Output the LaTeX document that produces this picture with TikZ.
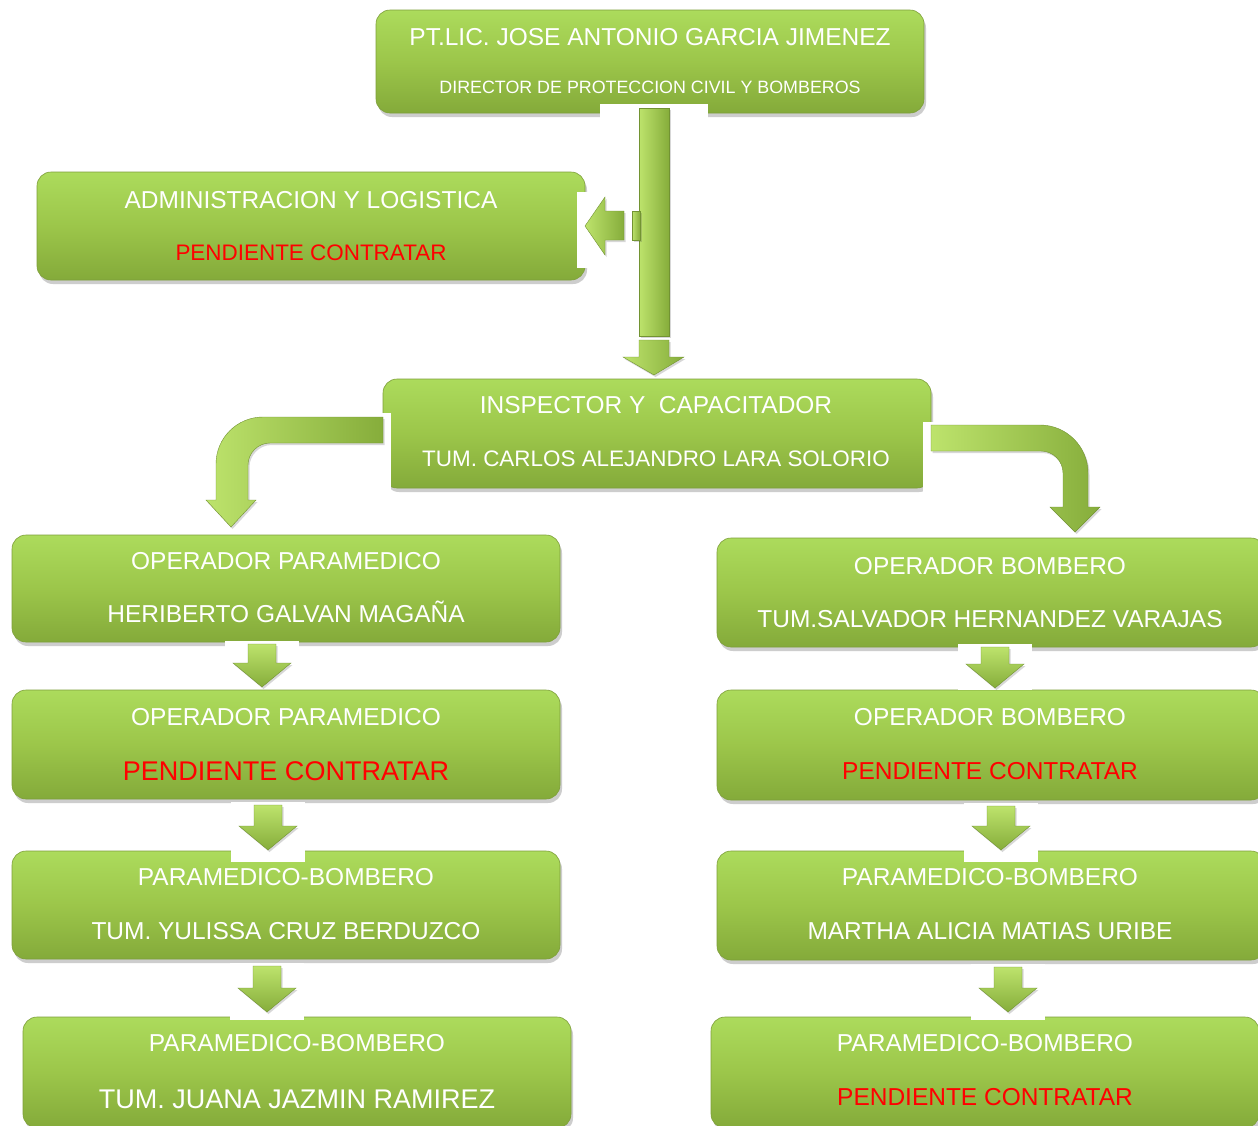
\documentclass[tikz,border=0pt]{standalone}
\usepackage{fontspec}
\setmainfont{Liberation Sans}
\usetikzlibrary{shadows,calc}
\definecolor{gtop}{HTML}{ACDB5C}
\definecolor{gmid}{HTML}{9CC64A}
\definecolor{gbot}{HTML}{84AA3A}
\definecolor{gedge}{HTML}{7E9F3A}
\definecolor{ared}{HTML}{FF0000}
\definecolor{atop}{HTML}{BDE36C}
\definecolor{abot}{HTML}{86AD3B}
\tikzset{
  box/.style={rounded corners=14pt, minimum width=548pt, minimum height=#1,
    inner sep=0pt, top color=gtop, bottom color=gbot, middle color=gmid,
    draw=gedge, line width=0.6pt,
    drop shadow={shadow xshift=2pt, shadow yshift=-4pt, opacity=0.28, fill=black!70}},
  box/.default=108pt,
  txt/.style={inner sep=0pt, anchor=base, text=white},
  arrfill/.style={left color=atop, right color=abot, draw=abot!85!black, line width=0.4pt,
    drop shadow={shadow xshift=1.5pt, shadow yshift=-2pt, opacity=0.22, fill=black!70}},
  arrdown/.style={top color=atop, bottom color=abot, draw=abot!85!black, line width=0.4pt,
    drop shadow={shadow xshift=1.5pt, shadow yshift=-2pt, opacity=0.22, fill=black!70}},
}
\newcommand\boxline[6]{%
  \pgfmathsetmacro\myfs{#4*1.02}%
  \node[txt, text=#5, font=\fontsize{\myfs}{\myfs}\selectfont] (#1) at (#2,#3+0.365*#4) {#6};}
\newcommand\smallarr[5]{%
  \fill[white] (#2-37,#3-3) rectangle (#2+37,#4);
  \coordinate (#1) at (#2,#3);
  \path[arrdown] (#2-14,#3) -- (#2+14,#3) -- (#2+14,#3+#5-24) -- (#2+29,#3+#5-24)
     -- (#2,#3+#5) -- (#2-29,#3+#5-24) -- (#2-14,#3+#5-24) -- cycle;}
\begin{document}
\begin{tikzpicture}[x=1pt,y=-1pt]
\useasboundingbox (0,0) rectangle (1258,1125);
\fill[white] (0,0) rectangle (1258,1125);

% boxes
\node[box=103pt] (dir) at (650,61.5) {};
\node[box=108pt] (adm) at (311,226) {};
\node[box=109pt] (insp) at (657,433.5) {};
\node[box=107pt] (l1) at (286,588.5) {};
\node[box=109pt] (l2) at (286,744.5) {};
\node[box=108pt] (l3) at (286,905) {};
\node[box=111pt] (l4) at (297,1072.5) {};
\node[box=109pt] (r1) at (991,592.5) {};
\node[box=110pt] (r2) at (991,745) {};
\node[box=109pt] (r3) at (991,905.5) {};
\node[box=111pt] (r4) at (985,1072.5) {};

% white backings of the connectors
\fill[white] (600,104) rectangle (708,125);
\fill[white] (577,192) rectangle (600,268);
\fill[white] (381,413) rectangle (391,492);
\fill[white] (923,422) rectangle (936,492);

% main vertical connector
\coordinate (vtop) at (654,108);
\coordinate (vjoin) at (654,226);
\path[arrfill] (639,108) rectangle (669,336);
\path[arrfill] (639,340) -- (669,340) -- (669,357) -- (684,357) -- (654,375)
   -- (623,357) -- (639,357) -- cycle;
% branch to administracion
\path[arrfill] (632,211) rectangle (640,240);
\path[arrfill] (585,226) -- (605,197) -- (605,211) -- (624,211) -- (624,240)
   -- (605,240) -- (605,255) -- cycle;

% curved connector to the left column
\path[arrfill] (383,417) -- (263,417) .. controls (237,417) and (216,438) .. (216,464)
   -- (216,500) -- (206,500) -- (231,527) -- (256,500) -- (248,500) -- (248,465)
   .. controls (248,453) and (258,443) .. (270,443) -- (383,443) -- cycle;
% curved connector to the right column
\path[arrfill] (931,425) -- (1040,425) .. controls (1066.5,425) and (1088,446.5) .. (1088,473)
   -- (1088,507) -- (1100,507) -- (1075,532) -- (1050,507) -- (1063,507) -- (1063,473)
   .. controls (1063,461) and (1053,451) .. (1041,451) -- (931,451) -- cycle;

% small connectors in the columns
\smallarr{al12}{262}{644}{688}{43}
\smallarr{al23}{268}{805}{862}{45}
\smallarr{al34}{267}{966}{1020}{46}
\smallarr{ar12}{995}{647}{690}{41}
\smallarr{ar23}{1001}{806}{862}{44}
\smallarr{ar34}{1008}{967}{1020}{45}

% texts
\boxline{t1a}{650}{37}{24}{white}{PT.LIC. JOSE ANTONIO GARCIA JIMENEZ}
\boxline{t1b}{650}{87}{17.5}{white}{DIRECTOR DE PROTECCION CIVIL Y BOMBEROS}
\boxline{t2a}{311}{200}{24}{white}{ADMINISTRACION Y LOGISTICA}
\boxline{t2b}{311}{252}{22}{ared}{PENDIENTE CONTRATAR}
\boxline{t3a}{656}{405}{24}{white}{INSPECTOR Y\ \ CAPACITADOR}
\boxline{t3b}{656}{458}{22}{white}{TUM. CARLOS ALEJANDRO LARA SOLORIO}
\boxline{l1a}{286}{561}{24}{white}{OPERADOR PARAMEDICO}
\boxline{l1b}{286}{614}{24}{white}{HERIBERTO GALVAN MAGAÑA}
\boxline{l2a}{286}{717}{24}{white}{OPERADOR PARAMEDICO}
\boxline{l2b}{286}{771}{26.5}{ared}{PENDIENTE CONTRATAR}
\boxline{l3a}{286}{877}{24}{white}{PARAMEDICO-BOMBERO}
\boxline{l3b}{286}{931}{24}{white}{TUM. YULISSA CRUZ BERDUZCO}
\boxline{l4a}{297}{1043}{24}{white}{PARAMEDICO-BOMBERO}
\boxline{l4b}{297}{1099}{26.5}{white}{TUM. JUANA JAZMIN RAMIREZ}
\boxline{r1a}{990}{566}{24}{white}{OPERADOR BOMBERO}
\boxline{r1b}{990}{619}{24}{white}{TUM.SALVADOR HERNANDEZ VARAJAS}
\boxline{r2a}{990}{717}{24}{white}{OPERADOR BOMBERO}
\boxline{r2b}{990}{771}{24}{ared}{PENDIENTE CONTRATAR}
\boxline{r3a}{990}{877}{24}{white}{PARAMEDICO-BOMBERO}
\boxline{r3b}{990}{931}{24}{white}{MARTHA ALICIA MATIAS URIBE}
\boxline{r4a}{985}{1043}{24}{white}{PARAMEDICO-BOMBERO}
\boxline{r4b}{985}{1097}{24}{ared}{PENDIENTE CONTRATAR}
\end{tikzpicture}
\end{document}
